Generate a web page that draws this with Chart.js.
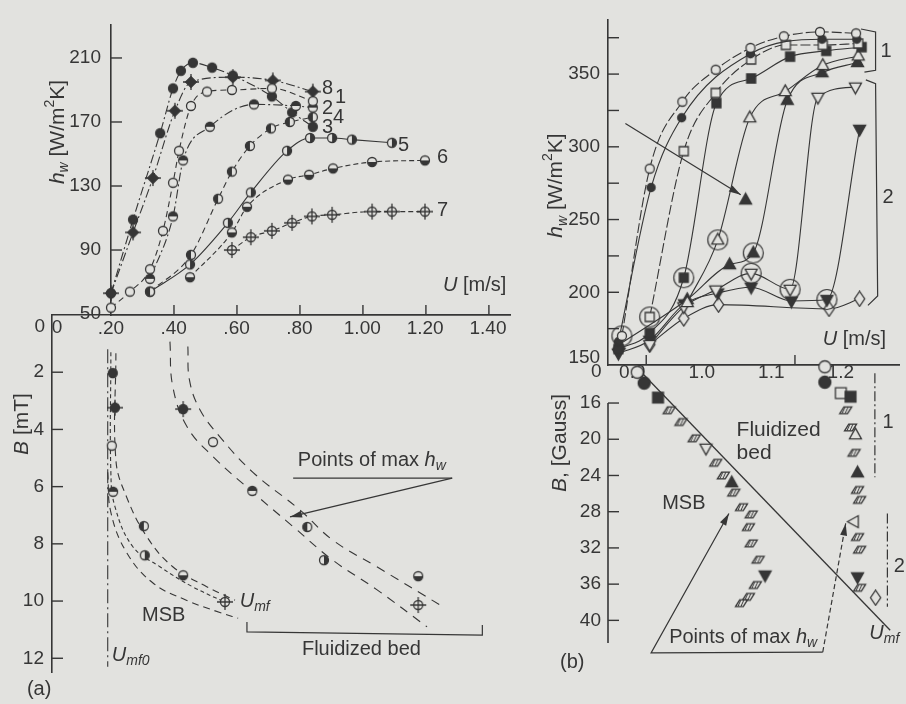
<!DOCTYPE html>
<html>
<head>
<meta charset="utf-8">
<script src="https://cdn.jsdelivr.net/npm/chart.js@4.4.0/dist/chart.umd.min.js"></script>
<style>
  html, body { margin: 0; padding: 0; background: #e2e2df; }
  #wrap { position: relative; width: 906px; height: 704px; overflow: hidden; }
  #wrap canvas { position: absolute; left: 0; top: 0; }
</style>
</head>
<body>
<div id="wrap">
  <canvas id="tl" width="906" height="704"></canvas>
  <canvas id="bl" width="906" height="704"></canvas>
  <canvas id="tr" width="906" height="704"></canvas>
  <canvas id="br" width="906" height="704"></canvas>
</div>
<script>
const INK = '#363636';
const BG = '#e2e2df';
const FONT = '"Liberation Sans", Arial, Helvetica, sans-serif';

// ---- (a) upper: h_w [W/m2K] vs U [m/s], curves 1..8
const a1U = [0.20, 0.26, 0.324, 0.365, 0.397, 0.416, 0.454, 0.505, 0.584, 0.711, 0.841];
const a1H = [54, 64, 78, 102, 132, 152, 180, 189, 190, 191, 183];
const a2U = [0.324, 0.397, 0.429, 0.514, 0.654, 0.787, 0.841];
const a2H = [72, 111, 146, 167, 181, 180, 179];
const a3U = [0.20, 0.27, 0.356, 0.397, 0.422, 0.46, 0.521, 0.587, 0.711, 0.775, 0.841];
const a3H = [63, 109, 163, 191, 202, 207, 204, 199, 186, 176, 167];
const a4U = [0.324, 0.454, 0.54, 0.584, 0.641, 0.708, 0.768, 0.841];
const a4H = [64, 87, 122, 139, 155, 166, 170, 173];
const a5U = [0.324, 0.451, 0.571, 0.644, 0.759, 0.832, 0.902, 0.965, 1.092];
const a5H = [64, 81, 107, 126, 152, 160, 160, 159, 157];
const a6U = [0.451, 0.584, 0.632, 0.762, 0.829, 0.905, 1.029, 1.197];
const a6H = [73, 101, 117, 134, 137, 141, 145, 146];
const a7U = [0.584, 0.644, 0.711, 0.775, 0.838, 0.902, 1.029, 1.092, 1.197];
const a7H = [90, 98, 102, 107, 111, 112, 114, 114, 114];
const a8U = [0.20, 0.27, 0.333, 0.403, 0.454, 0.587, 0.714, 0.841];
const a8H = [63, 101, 135, 177, 195, 198, 196, 189];
const aCurveNames = ['8', '1', '2', '4', '3', '5', '6', '7'];
const aHTicks = [50, 90, 130, 170, 210];
const aHLabels = ['50', '90', '130', '170', '210'];
const aUTickMarks = [0.4, 0.6, 0.8, 1.0, 1.2, 1.4];

// ---- (a) lower: B [mT] vs U [m/s]
const pMsbU = [0.206, 0.213, 0.203, 0.207, 0.305, 0.308, 0.43, 0.563];
const pMsbB = [2.03, 3.24, 4.57, 6.18, 7.38, 8.4, 9.1, 10.03];
const pMaxU = [0.43, 0.525, 0.65, 0.825, 0.878, 1.178, 1.178];
const pMaxB = [3.29, 4.44, 6.15, 7.41, 8.57, 9.13, 10.14];
const umf0U = [0.19, 0.19];
const umf0B = [1.2, 12.3];
const msbOutU = [0.216, 0.216, 0.25, 0.315, 0.397, 0.505, 0.595];
const msbOutB = [1.34, 5.07, 6.36, 7.76, 8.8, 9.5, 9.97];
const msbMidU = [0.2, 0.2, 0.213, 0.27, 0.356, 0.46, 0.57];
const msbMidB = [1.3, 5.5, 6.7, 8.1, 8.8, 9.5, 10.07];
const msbInU = [0.19, 0.2, 0.25, 0.334, 0.44, 0.547, 0.605];
const msbInB = [5.5, 6.9, 8.3, 9.37, 9.97, 10.4, 10.6];
const maxLoU = [0.388, 0.397, 0.442, 0.525, 0.652, 0.78, 0.906, 1.046, 1.206];
const maxLoB = [0.93, 2.5, 3.9, 4.95, 6.2, 7.4, 8.57, 9.6, 10.9];
const maxHiU = [0.445, 0.45, 0.483, 0.547, 0.652, 0.8, 0.906, 1.046, 1.257];
const maxHiB = [1.1, 2.27, 3.3, 4.26, 5.5, 6.8, 7.87, 8.8, 10.2];
const blUTicks = [0.2, 0.4, 0.6, 0.8, 1.0, 1.2, 1.4];
const blULabels = ['.20', '.40', '.60', '.80', '1.00', '1.20', '1.40'];
const blBTicks = [2, 4, 6, 8, 10, 12];
const blBLabels = ['2', '4', '6', '8', '10', '12'];

// ---- (b) upper: h_w [W/m2K] vs U [m/s]
const b1U = [0.885, 0.925, 0.972, 1.02, 1.07, 1.118, 1.17, 1.222];
const b1H = [170, 285, 331, 353, 368, 376, 379, 378];
const b2U = [0.88, 0.927, 0.971, 1.07, 1.173, 1.223];
const b2H = [166, 272, 320, 364, 374, 374];
const b3U = [0.925, 0.974, 1.02, 1.071, 1.121, 1.174, 1.225];
const b3H = [183, 297, 337, 360, 370, 370, 371];
const b4U = [0.88, 0.925, 0.974, 1.021, 1.071, 1.127, 1.179, 1.23];
const b4H = [161, 172, 210, 330, 347, 362, 366, 368.5];
const b5U = [0.979, 1.023, 1.069, 1.12, 1.174, 1.225];
const b5H = [193, 236, 320, 338, 356, 362.5];
const b6U = [0.881, 0.979, 1.04, 1.074, 1.123, 1.173, 1.224];
const b6H = [164, 195, 219, 227, 332, 351, 358];
const b7U = [0.925, 0.974, 1.02, 1.071, 1.127, 1.167, 1.221];
const b7H = [164, 190, 201.5, 213, 202, 334, 341];
const b8U = [0.88, 0.925, 0.975, 1.023, 1.071, 1.129, 1.18, 1.227];
const b8H = [158, 167, 192, 199.5, 203.5, 194, 195, 312];
const b9U = [0.925, 0.974, 1.024, 1.183, 1.227];
const b9H = [164, 182, 191.5, 188.6, 195.5];
const bRingU = [0.885, 0.925, 0.974, 1.023, 1.071, 1.074, 1.127, 1.18];
const bRingH = [170, 183, 210, 236, 213, 227, 202, 195];
const bPtrU = [1.063];
const bPtrH = [263.5];
const bHTicks = [150, 175, 200, 225, 250, 275, 300, 325, 350, 375];
const bHLabels = ['', '', '200', '', '250', '', '300', '', '350', ''];

// ---- (b) lower: B [Gauss] vs U [m/s]  (axis broken: 12 on the scale is the "0")
const cLU = [0.907, 0.917, 0.937, 0.953, 0.970, 0.989, 1.006, 1.020, 1.031, 1.043, 1.046, 1.057, 1.071, 1.067, 1.071, 1.081, 1.091, 1.077, 1.067, 1.057];
const cLB = [12.6, 13.8, 15.4, 16.8, 18.1, 19.9, 21.0, 22.6, 24.0, 24.8, 25.9, 27.5, 28.3, 29.7, 31.5, 33.3, 35.0, 36.1, 37.4, 38.1];
const cRU = [1.177, 1.177, 1.200, 1.214, 1.207, 1.214, 1.221, 1.219, 1.224, 1.224, 1.227, 1.219, 1.224, 1.227, 1.224, 1.227, 1.250];
const cRB = [12.0, 13.7, 14.9, 15.3, 16.8, 18.7, 19.5, 21.5, 23.7, 25.6, 26.7, 29.1, 30.8, 32.2, 35.2, 36.4, 37.5];
const cUmfU = [0.913, 1.271];
const cUmfB = [12.6, 41.1];
const cUTicks = [0.9, 1.0, 1.1, 1.2];
const cULabels = ['0.9', '1.0', '1.1', '1.2'];
const cBTicks = [16, 20, 24, 28, 32, 36, 40];
const cBLabels = ['16', '20', '24', '28', '32', '36', '40'];

// marker kinds per point
const pMsbMark = ['f', 'fplus', 'o', 'ht', 'hl', 'hr', 'hb', 'oplus'];
const pMaxMark = ['fplus', 'o', 'ht', 'hl', 'hr', 'hb', 'oplus'];
const cLMark = ['o', 'f', 'fsq', 'hatch', 'hatch', 'hatch', 'trid', 'hatch', 'hatch', 'ftri', 'hatch', 'hatch', 'hatch', 'hatch', 'hatch', 'hatch', 'ftrid', 'hatch', 'hatch', 'hatch'];
const cRMark = ['o', 'f', 'sq', 'fsq', 'hatch', 'hatch', 'tri', 'hatch', 'ftri', 'hatch', 'hatch', 'tril', 'hatch', 'hatch', 'ftrid', 'hatch', 'dia'];

Chart.defaults.font.family = FONT;

const markCache = {};
function mark(kind, r) {
  const key = kind + r;
  if (markCache[key]) return markCache[key];
  const ext = /plus/.test(kind) ? 4 : 2;
  const s = Math.ceil(2 * (r + ext)) + 1;
  const c = document.createElement('canvas');
  c.width = s; c.height = s;
  const g = c.getContext('2d');
  const m = s / 2;
  g.lineWidth = 1.3; g.strokeStyle = INK; g.fillStyle = INK;
  const circle = () => { g.beginPath(); g.arc(m, m, r, 0, Math.PI * 2); };
  const shape = pts => { g.beginPath(); pts.forEach((p, i) => g[i ? 'lineTo' : 'moveTo'](m + p[0] * r, m + p[1] * r)); g.closePath(); };
  const halfFill = a => { g.beginPath(); g.arc(m, m, r, a, a + Math.PI); g.closePath(); g.fill(); };
  const cross = () => {
    g.beginPath();
    g.moveTo(m - r - ext + 0.5, m); g.lineTo(m + r + ext - 0.5, m);
    g.moveTo(m, m - r - ext + 0.5); g.lineTo(m, m + r + ext - 0.5);
    g.stroke();
  };
  const hollow = () => { g.fillStyle = BG; g.fill(); g.fillStyle = INK; g.stroke(); };
  const solid = () => { g.fill(); g.stroke(); };
  const TRI = [[0, -1.1], [1, 0.7], [-1, 0.7]];
  const TRID = [[0, 1.1], [1, -0.7], [-1, -0.7]];
  const TRIL = [[-1.1, 0], [0.7, -1], [0.7, 1]];
  const SQ = [[-0.9, -0.9], [0.9, -0.9], [0.9, 0.9], [-0.9, 0.9]];
  const DIA = [[0, -1.25], [0.85, 0], [0, 1.25], [-0.85, 0]];
  switch (kind) {
    case 'o': circle(); hollow(); break;
    case 'f': circle(); solid(); break;
    case 'ht': circle(); hollow(); halfFill(Math.PI); break;
    case 'hb': circle(); hollow(); halfFill(0); break;
    case 'hl': circle(); hollow(); halfFill(Math.PI / 2); break;
    case 'hr': circle(); hollow(); halfFill(-Math.PI / 2); break;
    case 'oplus': circle(); hollow(); cross(); break;
    case 'fplus': circle(); solid(); cross(); break;
    case 'dplus': shape([[0, -1.2], [1.2, 0], [0, 1.2], [-1.2, 0]]); solid(); cross(); break;
    case 'sq': shape(SQ); hollow(); break;
    case 'fsq': shape(SQ); solid(); break;
    case 'tri': shape(TRI); hollow(); break;
    case 'ftri': shape(TRI); solid(); break;
    case 'trid': shape(TRID); hollow(); break;
    case 'ftrid': shape(TRID); solid(); break;
    case 'tril': shape(TRIL); hollow(); break;
    case 'dia': shape(DIA); hollow(); break;
    case 'hatch':
      shape([[-0.3, -0.55], [1, -0.55], [0.3, 0.55], [-1, 0.55]]); hollow();
      g.lineWidth = 1; g.beginPath();
      [-0.35, 0.15].forEach(k => { g.moveTo(m + (k + 0.25) * r, m - 0.55 * r); g.lineTo(m + (k - 0.25) * r, m + 0.55 * r); });
      g.stroke();
      break;
    case 'ring': circle(); g.lineWidth = 1.2; g.stroke(); break;
  }
  markCache[key] = c;
  return c;
}

function curve(us, vs, o = {}) {
  return {
    data: us.map((u, i) => ({ x: u, y: vs[i] })),
    showLine: o.line !== false,
    borderColor: INK,
    borderWidth: o.w || 1.1,
    borderDash: o.dash || [],
    tension: o.tension || 0,
    cubicInterpolationMode: o.mono ? 'monotone' : 'default',
    pointStyle: o.pts || 'circle',
    pointRadius: o.pts ? 5 : 0,
    backgroundColor: INK,
    clip: false,
    fill: false
  };
}

// vertical scales keep a real width (labels are clipped to the scale box);
// top scales mirror their labels so they sit under the axis line
function scale(min, max, o = {}) {
  return {
    type: 'linear', min, max,
    reverse: !!o.reverse,
    position: o.position || (o.horiz ? 'bottom' : 'left'),
    grid: { display: false, drawTicks: false },
    border: { display: o.border !== false, color: INK, width: 1.6 },
    ticks: {
      display: !!o.labels, color: INK, font: { size: 19, family: FONT },
      mirror: !!o.mirror,
      padding: o.pad ?? 8, maxRotation: 0, autoSkip: false,
      callback: (v, i) => (o.labels ? o.labels[i] : '')
    },
    afterBuildTicks: sc => { if (o.ticks) sc.ticks = o.ticks.map(v => ({ value: v })); },
    afterFit: sc => { if (sc.isHorizontal()) sc.height = 0; else sc.width = o.w || 0; }
  };
}

function parse(src) {
  const out = []; let it = false, buf = '', i = 0;
  const flush = () => { if (buf) out.push({ t: buf, it, mode: '' }); buf = ''; };
  while (i < src.length) {
    const c = src[i];
    if (c === '*') { flush(); it = !it; i++; }
    else if ((c === '_' || c === '^') && src[i + 1] === '{') {
      flush();
      const j = src.indexOf('}', i);
      out.push({ t: src.slice(i + 2, j), it, mode: c });
      i = j + 1;
    } else { buf += c; i++; }
  }
  flush();
  return out;
}

function rich(ctx, x, y, src, size, align, rot) {
  const segs = parse(src).map(p => {
    const sz = p.mode ? Math.round(size * 0.68) : size;
    const font = (p.it ? 'italic ' : '') + sz + 'px ' + FONT;
    ctx.font = font;
    return { p, font, w: ctx.measureText(p.t).width, dy: p.mode === '_' ? size * 0.3 : p.mode === '^' ? -size * 0.38 : 0 };
  });
  const total = segs.reduce((a, s) => a + s.w, 0);
  ctx.save();
  ctx.translate(x, y);
  if (rot) ctx.rotate(-Math.PI / 2);
  let cx = align === 'center' ? -total / 2 : align === 'right' ? -total : 0;
  ctx.textBaseline = 'middle'; ctx.textAlign = 'left';
  segs.forEach(s => { ctx.font = s.font; ctx.fillText(s.p.t, cx, s.dy); cx += s.w; });
  ctx.restore();
}

function stroke(ctx, pts, dash, w) {
  ctx.setLineDash(dash); ctx.lineWidth = w;
  ctx.beginPath();
  pts.forEach((p, i) => (i ? ctx.lineTo(p[0], p[1]) : ctx.moveTo(p[0], p[1])));
  ctx.stroke();
  ctx.setLineDash([]);
}

function head(ctx, from, to) {
  const a = Math.atan2(to[1] - from[1], to[0] - from[0]), len = 12, wid = 3.5;
  ctx.beginPath();
  ctx.moveTo(to[0], to[1]);
  ctx.lineTo(to[0] - len * Math.cos(a) + wid * Math.sin(a), to[1] - len * Math.sin(a) - wid * Math.cos(a));
  ctx.lineTo(to[0] - len * Math.cos(a) - wid * Math.sin(a), to[1] - len * Math.sin(a) + wid * Math.cos(a));
  ctx.closePath();
  ctx.fill();
}

// annotations, in each panel's own data units
const DASHDOT = [10, 3, 2, 3];
const DECOR = {
  tl: {
    xIn: aUTickMarks, yIn: [90, 130, 170, 210],
    texts: [
      { at: [0.032, 163.75], s: '*h_{w}* [W/m^{2}K]', size: 21, align: 'center', rot: true },
      { at: [1.254, 68], s: '*U* [m/s]' },
      { at: [0.87, 191], s: aCurveNames[0] },
      { at: [0.911, 185], s: aCurveNames[1] },
      { at: [0.87, 178.5], s: aCurveNames[2] },
      { at: [0.905, 173], s: aCurveNames[3] },
      { at: [0.87, 166.5], s: aCurveNames[4] },
      { at: [1.111, 155.6], s: aCurveNames[5] },
      { at: [1.235, 148], s: aCurveNames[6] },
      { at: [1.235, 115], s: aCurveNames[7] }
    ]
  },
  bl: {
    yIn: blBTicks,
    paths: [
      { pts: [[0.78, 5.7], [1.286, 5.7]] },
      { pts: [[1.286, 5.7], [0.77, 7.06]], arrow: 'end' },
      { pts: [[0.633, 10.73], [0.633, 11.08], [1.382, 11.19], [1.382, 10.84]] }
    ],
    texts: [
      { at: [-0.083, 3.81], s: '*B* [mT]', size: 21, align: 'center', rot: true },
      { at: [0.029, 0.45], s: '0', size: 19, align: 'center' },
      { at: [-0.0096, 0.42], s: '0', size: 19, align: 'right' },
      { at: [0.795, 5.07], s: 'Points of max *h_{w}*' },
      { at: [0.299, 10.5], s: 'MSB' },
      { at: [0.61, 10.0], s: '*U_{mf}*' },
      { at: [0.203, 11.9], s: '*U_{mf0}*' },
      { at: [0.808, 11.7], s: 'Fluidized bed' },
      { at: [-0.067, 13.1], s: '(a)' }
    ]
  },
  tr: {
    xIn: [0.92, 1.134], yIn: bHTicks.slice(1),
    paths: [
      { pts: [[0.89, 316], [1.056, 267]], arrow: 'end' },
      { pts: [[1.229, 381], [1.25, 379], [1.25, 352.6], [1.234, 351.3]] },
      { pts: [[1.236, 346], [1.25, 343.4], [1.253, 197.5], [1.239, 191]] }
    ],
    texts: [
      { at: [0.791, 273.4], s: '*h_{w}* [W/m^{2}K]', size: 21, align: 'center', rot: true },
      { at: [0.8536, 155.3], s: '150', size: 19, align: 'right' },
      { at: [1.174, 167.8], s: '*U* [m/s]' },
      { at: [1.257, 365.8], s: '1' },
      { at: [1.26, 265.5], s: '2' }
    ]
  },
  br: {
    yIn: cBTicks,
    paths: [
      { pts: [[0.865, 16], [0.865, 42.5]], w: 1.6 },
      { pts: [[1.039, 28.2], [0.927, 43.6], [1.174, 43.5]], arrow: 'start' },
      { pts: [[1.174, 43.5], [1.207, 29.3]], dash: [5, 3], arrow: 'end' },
      { pts: [[1.249, 12.7], [1.249, 24.2]], dash: DASHDOT },
      { pts: [[1.267, 28.2], [1.267, 38.5]], dash: DASHDOT }
    ],
    texts: [
      { at: [0.796, 20.4], s: '*B*, [Gauss]', size: 21, align: 'center', rot: true },
      { at: [0.8557, 12.57], s: '0', size: 19, align: 'right' },
      { at: [1.05, 19.0], s: 'Fluidized', size: 21 },
      { at: [1.05, 21.5], s: 'bed', size: 21 },
      { at: [0.943, 27.05], s: 'MSB' },
      { at: [0.953, 41.9], s: 'Points of max *h_{w}*' },
      { at: [1.241, 41.4], s: '*U_{mf}*' },
      { at: [1.26, 18.1], s: '1' },
      { at: [1.276, 34.1], s: '2' },
      { at: [0.796, 44.7], s: '(b)' }
    ]
  }
};

const decor = {
  id: 'decor',
  afterDatasetsDraw(chart) {
    const d = DECOR[chart.canvas.id];
    if (!d) return;
    const ctx = chart.ctx, sx = chart.scales.x, sy = chart.scales.y, ca = chart.chartArea;
    const px = (u, v) => [sx.getPixelForValue(u), sy.getPixelForValue(v)];
    ctx.save();
    ctx.strokeStyle = INK; ctx.fillStyle = INK;
    (d.xIn || []).forEach(v => {
      const x = sx.getPixelForValue(v);
      const top = sx.position === 'top';
      const y = top ? ca.top : ca.bottom;
      stroke(ctx, [[x, y], [x, y + (top ? 10 : -10)]], [], 1.4);
    });
    (d.yIn || []).forEach(v => {
      const y = sy.getPixelForValue(v);
      stroke(ctx, [[ca.left, y], [ca.left + 11, y]], [], 1.4);
    });
    (d.paths || []).forEach(p => {
      const pts = p.pts.map(q => px(q[0], q[1]));
      stroke(ctx, pts, p.dash || [], p.w || 1.2);
      if (p.arrow === 'end') head(ctx, pts[pts.length - 2], pts[pts.length - 1]);
      if (p.arrow === 'start') head(ctx, pts[1], pts[0]);
    });
    (d.texts || []).forEach(t => {
      const [x, y] = px(t.at[0], t.at[1]);
      rich(ctx, x, y, t.s, t.size || 20, t.align || 'left', t.rot);
    });
    ctx.restore();
  }
};

function panel(id, pad, xs, ys, datasets) {
  return new Chart(document.getElementById(id), {
    type: 'line',
    data: { datasets },
    options: {
      responsive: false,
      animation: false,
      devicePixelRatio: 1,
      events: [],
      layout: { padding: pad },
      plugins: { legend: { display: false }, tooltip: { enabled: false } },
      scales: { x: xs, y: ys }
    },
    plugins: [decor]
  });
}

const DASH = [6, 4];
const DOTDASH = [9, 3, 2, 3];

panel('tl', { left: 51, top: 25, right: 396, bottom: 389 },
  scale(0.2, 1.467, { horiz: true }),
  scale(49.4, 230.6, { ticks: aHTicks, labels: aHLabels, pad: 10, w: 60 }),
  [
    curve(a1U, a1H, { mono: true, dash: DASH, pts: mark('o', 4.5) }),
    curve(a2U, a2H, { mono: true, dash: DOTDASH, pts: mark('ht', 4.5) }),
    curve(a3U, a3H, { mono: true, dash: DOTDASH, pts: mark('f', 4.5) }),
    curve(a4U, a4H, { mono: true, dash: DASH, pts: mark('hl', 4.5) }),
    curve(a5U, a5H, { mono: true, pts: mark('hr', 4.5) }),
    curve(a6U, a6H, { mono: true, dash: [5, 3], pts: mark('hb', 4.5) }),
    curve(a7U, a7H, { mono: true, dash: [5, 3], pts: mark('oplus', 4.5) }),
    curve(a8U, a8H, { mono: true, dash: DOTDASH, pts: mark('dplus', 4.5) })
  ]);

panel('bl', { left: 2, top: 315, right: 396, bottom: 32 },
  scale(0.0127, 1.47, { position: 'top', ticks: blUTicks, labels: blULabels, mirror: true, pad: 2 }),
  scale(0, 12.48, { reverse: true, ticks: blBTicks, labels: blBLabels, pad: 8, w: 50 }),
  [
    curve(pMsbU, pMsbB, { line: false, pts: pMsbMark.map(k => mark(k, 4.5)) }),
    curve(pMaxU, pMaxB, { line: false, pts: pMaxMark.map(k => mark(k, 4.5)) }),
    curve(umf0U, umf0B, { dash: [14, 4, 2, 4] }),
    curve(msbOutU, msbOutB, { tension: 0.4, dash: [7, 5] }),
    curve(msbMidU, msbMidB, { tension: 0.4, dash: [4, 3] }),
    curve(msbInU, msbInB, { tension: 0.4, dash: [7, 5] }),
    curve(maxLoU, maxLoB, { tension: 0.4, dash: [9, 7] }),
    curve(maxHiU, maxHiB, { tension: 0.4, dash: [9, 7] })
  ]);

panel('tr', { left: 558, top: 5, right: 4, bottom: 339 },
  scale(0.865, 1.285, { horiz: true }),
  scale(150, 387.6, { ticks: bHTicks, labels: bHLabels, pad: 8, w: 50 }),
  [
    curve(bRingU, bRingH, { line: false, pts: mark('ring', 10) }),
    curve(bPtrU, bPtrH, { line: false, pts: mark('ftri', 6) }),
    curve(b1U, b1H, { mono: true, dash: [10, 3], pts: mark('o', 4.5) }),
    curve(b2U, b2H, { mono: true, pts: mark('f', 4) }),
    curve(b3U, b3H, { mono: true, dash: [10, 3], pts: mark('sq', 5) }),
    curve(b4U, b4H, { mono: true, pts: mark('fsq', 5) }),
    curve(b5U, b5H, { mono: true, pts: mark('tri', 6) }),
    curve(b6U, b6H, { mono: true, pts: mark('ftri', 6) }),
    curve(b7U, b7H, { mono: true, pts: mark('trid', 6) }),
    curve(b8U, b8H, { mono: true, pts: mark('ftrid', 6) }),
    curve(b9U, b9H, { mono: true, pts: mark('dia', 6) })
  ]);

panel('br', { left: 558, top: 365, right: 4, bottom: 61 },
  scale(0.865, 1.285, { position: 'top', ticks: cUTicks, labels: cULabels, mirror: true, pad: -4 }),
  scale(11.8, 42.5, { reverse: true, border: false, ticks: cBTicks, labels: cBLabels, pad: 7, w: 50 }),
  [
    curve(cLU, cLB, { line: false, pts: cLMark.map(k => mark(k, 6)) }),
    curve(cRU, cRB, { line: false, pts: cRMark.map(k => mark(k, 6)) }),
    curve(cUmfU, cUmfB, { w: 1.3 })
  ]);
</script>
</body>
</html>
